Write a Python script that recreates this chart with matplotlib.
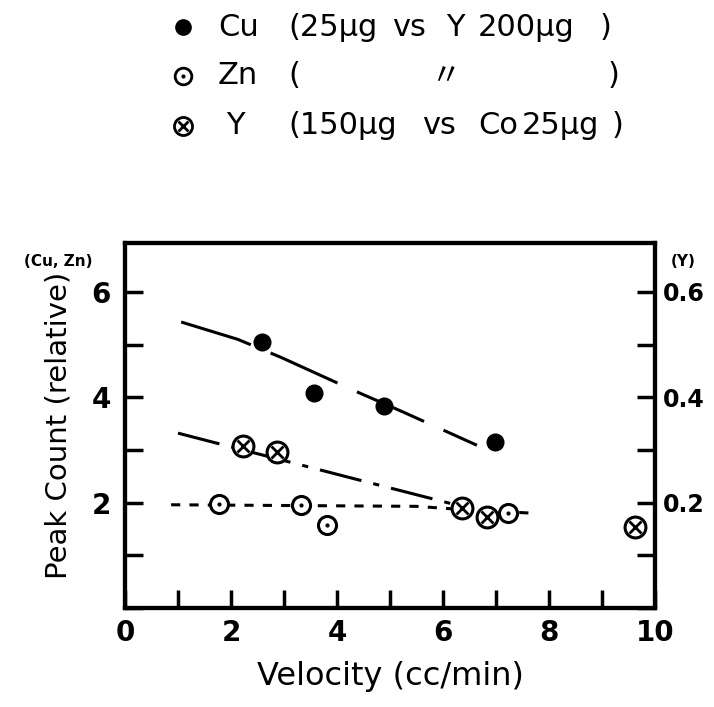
import matplotlib.pyplot as plt
from matplotlib.ticker import MultipleLocator

# data
cu_x = [2.58, 3.57, 4.89, 6.98]
cu_y = [5.05, 4.08, 3.83, 3.15]
cu_fit_x = [1.06, 2.13, 2.94, 4.34, 5.25, 6.64]
cu_fit_y = [5.43, 5.10, 4.76, 4.12, 3.72, 3.09]

zn_x = [1.77, 3.32, 3.81, 7.23]
zn_y = [1.97, 1.95, 1.57, 1.80]
zn_fit_x = [0.87, 5.5, 6.5, 7.7]
zn_fit_y = [1.96, 1.93, 1.86, 1.80]

y_x = [2.23, 2.87, 6.36, 6.83, 9.62]
y_y = [0.307, 0.296, 0.190, 0.173, 0.154]
y_fit_x = [1.0, 4.34, 6.2]
y_fit_y = [0.332, 0.245, 0.197]

W, H = 714, 707
fig = plt.figure(figsize=(W / 100, H / 100), dpi=100)
ax = fig.add_axes([125 / W, 1 - 608 / H, 530 / W, 365 / H])
ax2 = ax.twinx()

lw = 2.2
ax.plot(cu_fit_x, cu_fit_y, color='black', lw=lw, dashes=[24, 7])
ax.plot(cu_x, cu_y, 'o', color='black', ms=12)

ax.plot(zn_fit_x, zn_fit_y, color='black', lw=lw, dashes=[3, 3])
ax.plot(zn_x, zn_y, 'o', mfc='white', mec='black', mew=2.2, ms=13)
ax.plot(zn_x, zn_y, '.', color='black', ms=4)

ax2.plot(y_fit_x, y_fit_y, color='black', lw=lw, dashes=[14, 4, 2, 4])
ax2.plot(y_x, y_y, 'o', mfc='white', mec='black', mew=2.2, ms=15)
ax2.plot(y_x, y_y, 'x', color='black', mew=2.0, ms=8)

ax.set_xlim(0, 10)
ax.set_ylim(0, 6.93)
ax2.set_ylim(0, 0.693)

ax.set_xticks(range(0, 11, 2))
ax.xaxis.set_minor_locator(MultipleLocator(1))
ax.set_yticks([2, 4, 6])
ax.yaxis.set_minor_locator(MultipleLocator(1))
ax2.set_yticks([0.2, 0.4, 0.6])
ax2.set_yticklabels(['0.2', '0.4', '0.6'])
ax2.yaxis.set_minor_locator(MultipleLocator(0.1))

for a in (ax, ax2):
    a.tick_params(which='both', direction='in', length=13, width=2.5)
    a.tick_params(labelsize=20, pad=10)
    for s in a.spines.values():
        s.set_linewidth(3)
ax.tick_params(axis='x', pad=8)
ax2.tick_params(axis='y', labelsize=17, pad=6)
for lab in ax.get_xticklabels() + ax.get_yticklabels() + ax2.get_yticklabels():
    lab.set_fontweight('bold')

ax.set_xlabel('Velocity (cc/min)', fontsize=23, labelpad=10)
ax.set_ylabel('Peak Count (relative)', fontsize=21, labelpad=14)

fig.text(58 / W, 1 - 262 / H, '(Cu, Zn)', fontsize=11, fontweight='bold',
         ha='center', va='center')
fig.text(683 / W, 1 - 262 / H, '(Y)', fontsize=11, fontweight='bold',
         ha='center', va='center')

# hand-made legend at the top
rows = [27, 76, 126]
mx = 183 / W
fig.lines.append(plt.Line2D([mx], [1 - rows[0] / H], marker='o', color='black',
                            ms=11, transform=fig.transFigure))
fig.lines.append(plt.Line2D([mx], [1 - rows[1] / H], marker='o', mfc='white',
                            mec='black', mew=2, ms=12, transform=fig.transFigure))
fig.lines.append(plt.Line2D([mx], [1 - rows[1] / H], marker='.', color='black',
                            ms=4, transform=fig.transFigure))
fig.lines.append(plt.Line2D([mx], [1 - rows[2] / H], marker='o', mfc='white',
                            mec='black', mew=2, ms=13, transform=fig.transFigure))
fig.lines.append(plt.Line2D([mx], [1 - rows[2] / H], marker='x', color='black',
                            mew=2, ms=7, transform=fig.transFigure))

fs = 22
legend_pieces = [
    (0, 218, 'Cu'), (0, 288, '(25μg'), (0, 392, 'vs'), (0, 446, 'Y'),
    (0, 478, '200μg'), (0, 600, ')'),
    (1, 218, 'Zn'), (1, 288, '('), (1, 608, ')'),
    (2, 226, 'Y'), (2, 288, '(150μg'), (2, 422, 'vs'), (2, 478, 'Co'),
    (2, 522, '25μg'), (2, 612, ')'),
]
for row, px, txt in legend_pieces:
    fig.text(px / W, 1 - rows[row] / H, txt, fontsize=fs, va='center')
fig.text(445 / W, 1 - rows[1] / H, '〃', fontsize=fs, va='center', ha='center',
         family=['Noto Sans CJK JP', 'DejaVu Sans'])

fig.savefig('out.png', dpi=100)
